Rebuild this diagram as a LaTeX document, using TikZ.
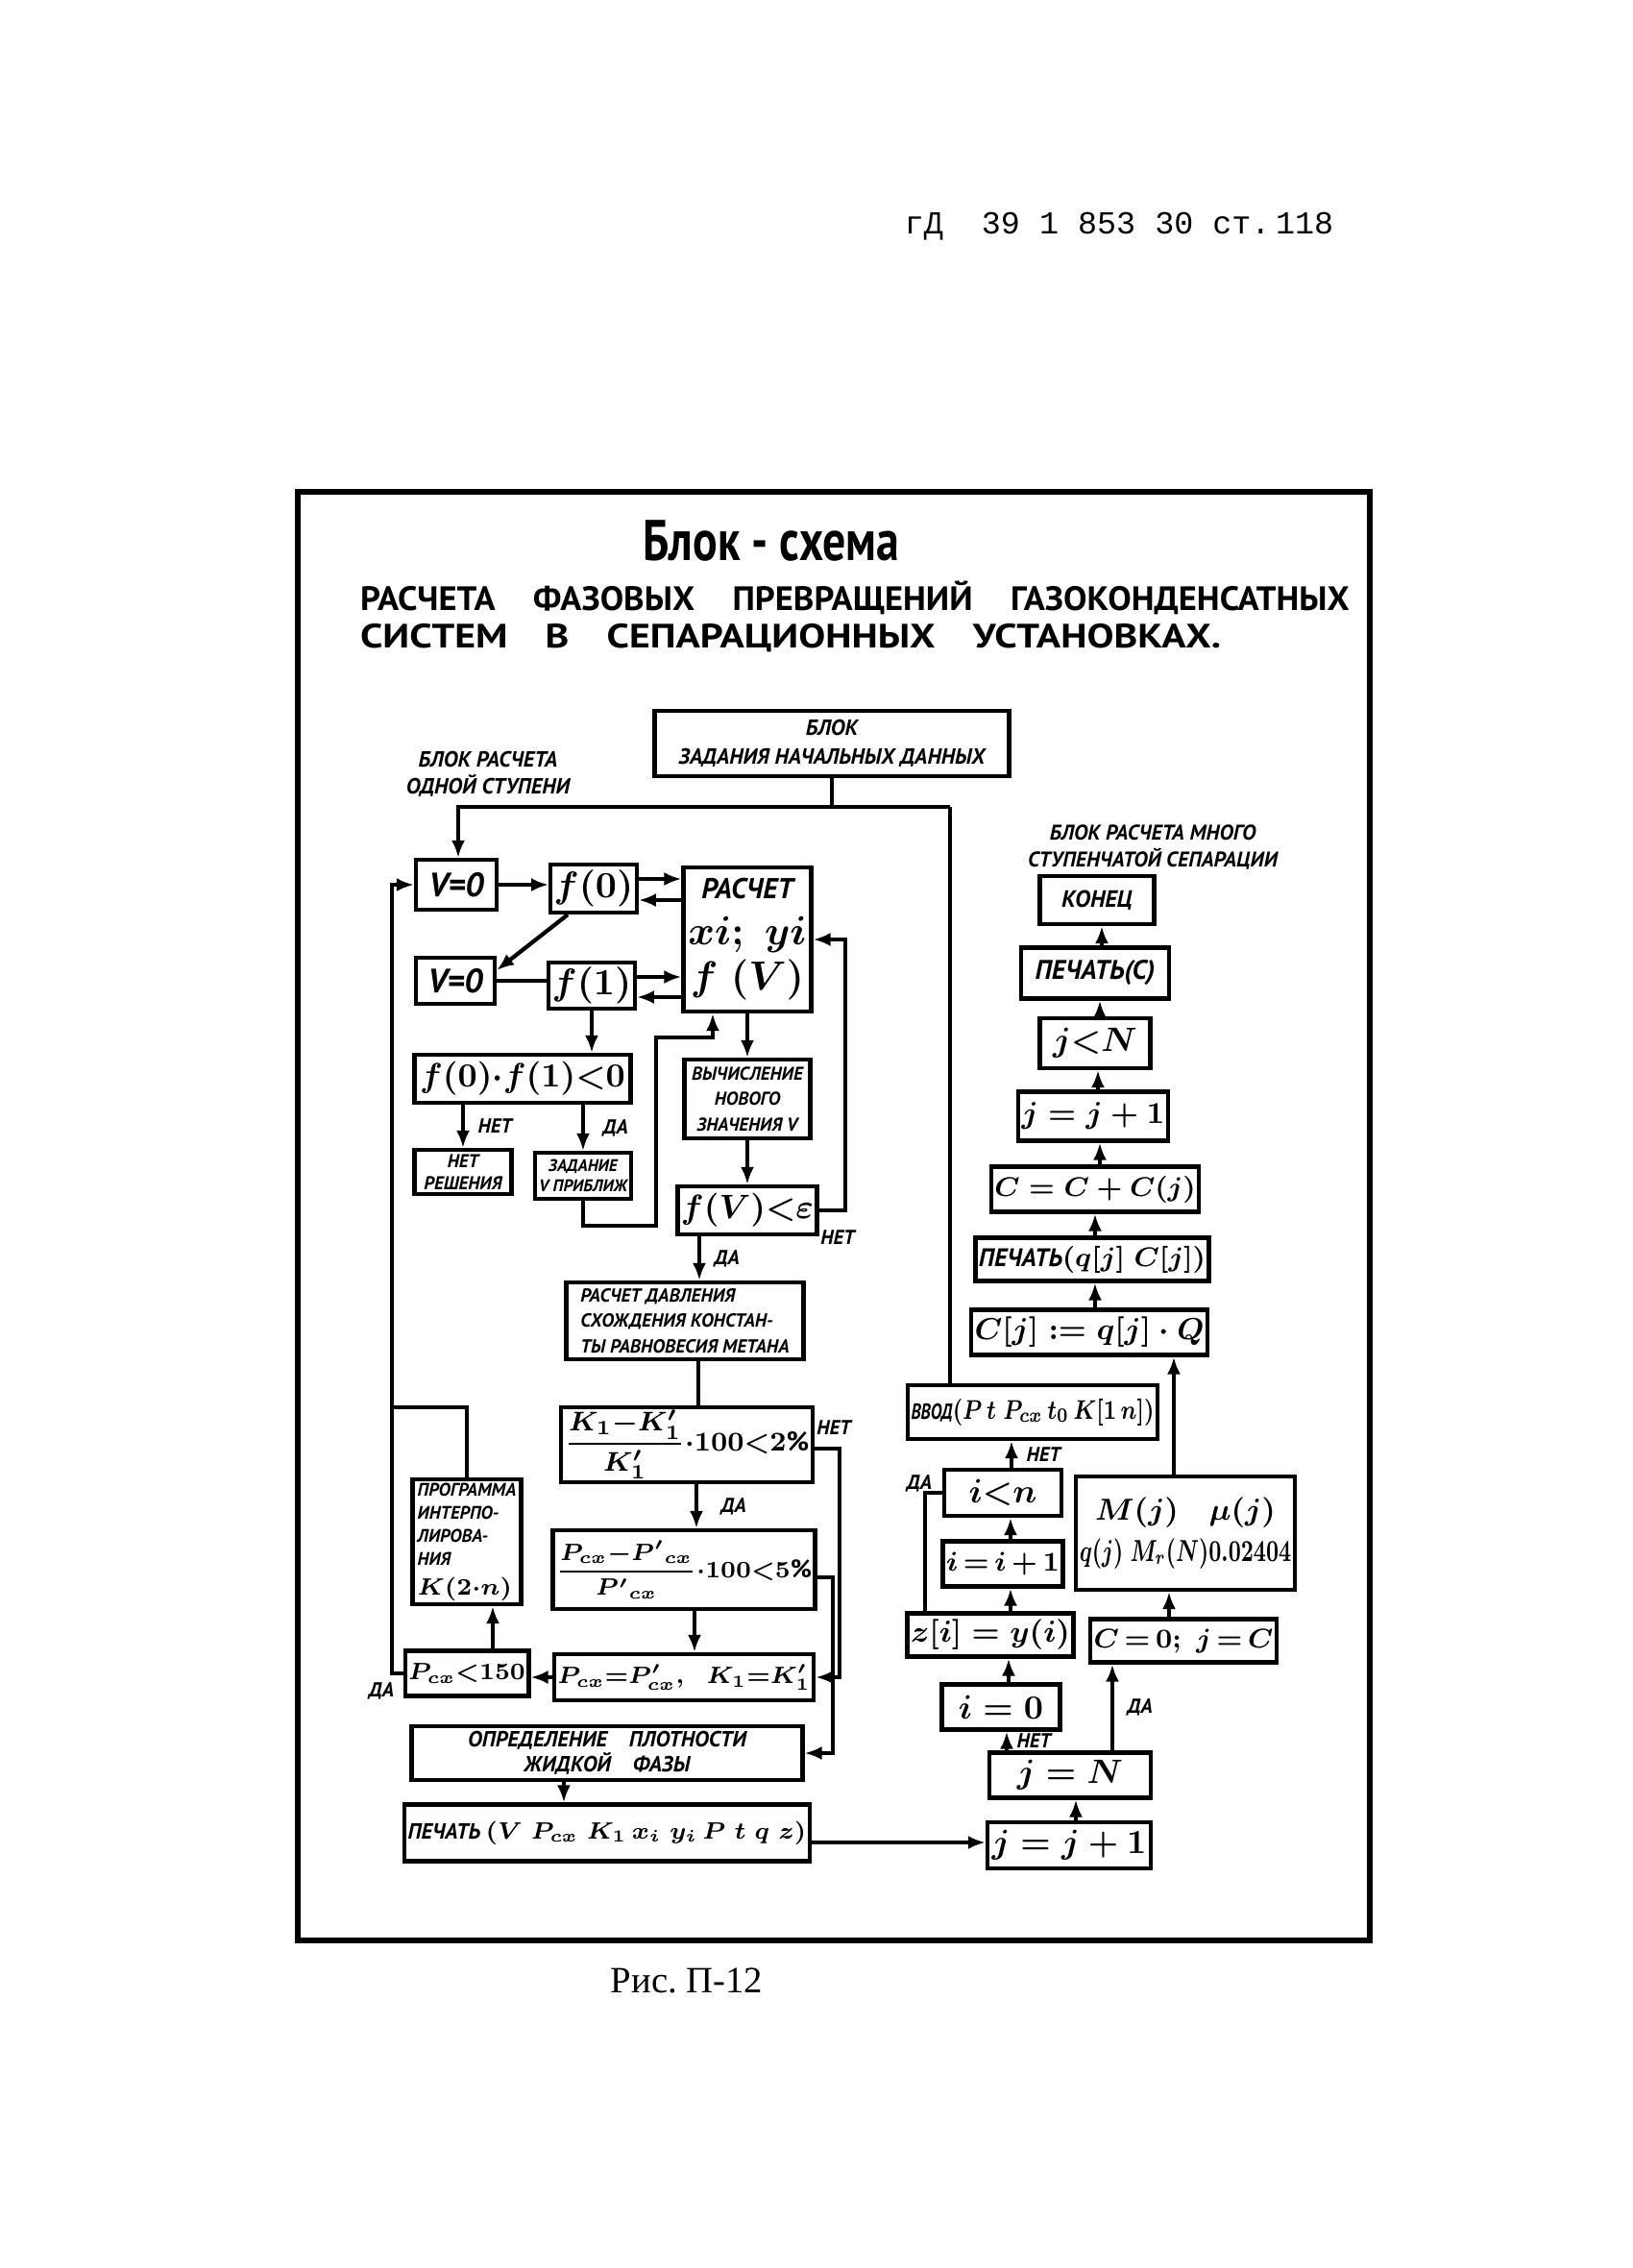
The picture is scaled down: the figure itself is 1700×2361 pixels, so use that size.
\documentclass[tikz,border=0pt]{standalone}
\usepackage{amsmath}
\usepackage{graphicx}
\usepackage{fontspec}
\setmainfont{PT Sans}
\newfontfamily\typefont{Liberation Mono}
\newfontfamily\captionfont{Liberation Serif}
\usetikzlibrary{positioning,arrows.meta,calc}

\newcommand{\nar}[2][0.85]{\scalebox{#1}[1]{#2}}

\begin{document}
\begin{tikzpicture}[x=0.1mm, y=-0.1mm, line width=1.2pt, >={Latex[length=1.8mm,width=1.4mm]},
    bloc/.style={draw, line width=1.2pt, inner sep=1pt, align=center},
    boxsize/.style 2 args={minimum width=#1mm, minimum height=#2mm},
    hand/.style 2 args={font=\bfseries\itshape\boldmath\fontsize{#1}{#2}\selectfont},
    ouinon/.style={hand={6}{7}, inner sep=1pt}]

    \useasboundingbox (0,0) rectangle (1700,2361);

    % =========================================================================
    % EN-TETE, CADRE, TITRE
    % =========================================================================
    \node[font=\typefont\fontsize{9.5}{11}\selectfont] (header) at (1165,236) {гД\ \ 39 1 853 30 ст.\,118};

    \draw[line width=1.5pt] (310,512) rectangle (1426,2020);

    \node[font=\bfseries\fontsize{17}{19}\selectfont] (title) at (803,563) {\nar[0.8]{Блок - схема}};
    \node[anchor=west, inner sep=0pt, font=\bfseries\fontsize{10}{11}\selectfont] (titleA) at (373,622)
        {\nar[1.04]{\makebox[99mm][s]{РАСЧЕТА ФАЗОВЫХ ПРЕВРАЩЕНИЙ ГАЗОКОНДЕНСАТНЫХ}}};
    \node[anchor=west, inner sep=0pt, font=\bfseries\fontsize{10}{11}\selectfont] (titleB) at (373,664)
        {\nar[1.19]{\makebox[75.3mm][s]{СИСТЕМ В СЕПАРАЦИОННЫХ УСТАНОВКАХ.}}};

    \node[font=\captionfont\fontsize{11}{12}\selectfont] (caption) at (715,2062) {Рис.\ П-12};

    % =========================================================================
    % BLOC DE DEPART
    % =========================================================================
    \node[bloc, boxsize={36.9}{6.8}, hand={6.5}{8.5}] (startBlock) at (866,774) {БЛОК\\ЗАДАНИЯ НАЧАЛЬНЫХ ДАННЫХ};
    \node[hand={6.5}{8}, align=center] (oneStage) at (508,806) {БЛОК РАСЧЕТА\\ОДНОЙ СТУПЕНИ};

    % =========================================================================
    % UNE ETAPE (colonne gauche)
    % =========================================================================
    \node[bloc, boxsize={8.4}{5.2}, hand={10}{12}] (vZeroA) at (475,921) {V=0};
    \node[bloc, boxsize={8.0}{5.0}, hand={11}{13}] (fZero) at (618,925) {$f(0)$};
    \node[bloc, boxsize={13.3}{15.0}, hand={8.5}{13.5}] (calcXY) at (778,978)
        {РАСЧЕТ\\{\fontsize{12}{13.5}\selectfont$xi;\;yi$}\\{\fontsize{12}{13.5}\selectfont$f\;(V)$}};
    \node[bloc, boxsize={8.2}{4.8}, hand={10}{12}] (vZeroB) at (474,1021) {V=0};
    \node[bloc, boxsize={8.0}{4.8}, hand={11}{13}] (fOne) at (616,1026) {$f(1)$};
    \node[bloc, boxsize={22.5}{5.0}, hand={10}{12}] (prodTest) at (544,1123) {$f(0){\cdot}f(1){<}0$};
    \node[bloc, boxsize={10.1}{4.6}, hand={5.5}{6.5}] (noSol) at (482,1220) {НЕТ\\РЕШЕНИЯ};
    \node[bloc, boxsize={10.0}{4.8}, hand={5}{6}] (vGuess) at (607,1224) {ЗАДАНИЕ\\V ПРИБЛИЖ};
    \node[bloc, boxsize={13.1}{8.2}, hand={5.5}{7.5}] (newV) at (778,1144) {ВЫЧИСЛЕНИЕ\\НОВОГО\\ЗНАЧЕНИЯ V};
    \node[bloc, boxsize={13.5}{5.0}, hand={10}{12}] (fEps) at (778,1260) {$f(V){<}\varepsilon$};
    \node[bloc, boxsize={24.7}{8.0}, hand={5.6}{7.5}, align=left] (pConv) at (713,1375)
        {РАСЧЕТ ДАВЛЕНИЯ\\СХОЖДЕНИЯ КОНСТАН-\\ТЫ РАВНОВЕСИЯ МЕТАНА};
    \node[bloc, boxsize={25.0}{7.8}, hand={8}{10}] (kTest) at (715,1504) {$\dfrac{K_1{-}K_1'}{K_1'}{\cdot}100{<}2\%$};
    \node[bloc, boxsize={25.0}{8.2}, hand={7.5}{10}] (pTest) at (712,1634)
        {$\dfrac{P_{cx}{-}{P'}_{cx}}{{P'}_{cx}}{\cdot}100{<}5\%$};
    \node[bloc, boxsize={25.0}{4.8}, hand={7}{9}] (pSet) at (712,1746) {$P_{cx}{=}P'_{cx},\;\;K_1{=}K_1'$};
    \node[bloc, boxsize={11.4}{4.7}, hand={7.5}{9}] (pLimit) at (486,1742) {$P_{cx}{<}150$};
    \node[bloc, boxsize={11.3}{13.0}, hand={5.4}{6.8}, align=left] (interp) at (486,1605)
        {ПРОГРАММА\\ИНТЕРПО-\\ЛИРОВА-\\НИЯ\\[2pt]{\fontsize{7.5}{6.8}\selectfont$K(2{\cdot}n)$}};
    \node[bloc, boxsize={40.7}{5.6}, hand={6.5}{7.5}] (density) at (632,1825) {ОПРЕДЕЛЕНИЕ\quad ПЛОТНОСТИ\\ЖИДКОЙ\quad ФАЗЫ};
    \node[bloc, boxsize={40.7}{5.9}, hand={6.5}{9}] (printA) at (632,1908)
        {ПЕЧАТЬ {\fontsize{7}{9}\selectfont$(V\;P_{cx}\;K_1\,x_i\;y_i\,P\;t\;q\;z)$}};

    % =========================================================================
    % PLUSIEURS ETAPES (colonne droite)
    % =========================================================================
    \node[hand={6.3}{8}, align=center] (multiStage) at (1200,882) {БЛОК РАСЧЕТА МНОГО\\СТУПЕНЧАТОЙ СЕПАРАЦИИ};
    \node[bloc, boxsize={11.9}{5.0}, hand={7}{8}] (theEnd) at (1142,937) {КОНЕЦ};
    \node[bloc, boxsize={15.4}{5.3}, hand={8}{9}] (printC) at (1140,1013) {ПЕЧАТЬ(C)};
    \node[bloc, boxsize={11.5}{5.2}, hand={10}{12}] (jLess) at (1140,1086) {$j{<}N$};
    \node[bloc, boxsize={15.3}{5.1}, hand={9}{10}] (jIncA) at (1138,1162) {$j=j+1$};
    \node[bloc, boxsize={19.6}{4.7}, hand={8}{10}] (cSum) at (1140,1238) {$C=C+C(j)$};
    \node[bloc, boxsize={24.1}{4.5}, hand={7.5}{9}] (printQ) at (1137,1311)
        {ПЕЧАТЬ{\fontsize{8}{10}\selectfont$(q[j]\;C[j])$}};
    \node[bloc, boxsize={24.2}{4.7}, hand={9}{11}] (cQ) at (1134,1387) {$C[j]:=q[j]\cdot Q$};
    \node[bloc, boxsize={25.4}{5.6}, hand={6.5}{8}] (input) at (1075,1470)
        {\nar[0.78]{ВВОД{\fontsize{8.5}{10}\selectfont$(P\,t\;P_{cx}\,t_0\,K[1\,n])$}}};
    \node[bloc, boxsize={12.2}{4.8}, hand={10}{12}] (iLess) at (1044,1554) {$i{<}n$};
    \node[bloc, boxsize={19.8}{11.8}, hand={9}{12}] (molar) at (1234,1596)
        {$M(j)\quad\mu(j)$\\\nar[0.7]{$q(j)\;M_r(N)0.02404$}};
    \node[bloc, boxsize={12.2}{4.7}, hand={8}{10}] (iInc) at (1044,1628) {$i\,{=}\,i\,{+}\,1$};
    \node[bloc, boxsize={17.2}{4.5}, hand={9}{11}] (zSet) at (1031,1702) {$z[i]=y(i)$};
    \node[bloc, boxsize={17.7}{4.5}, hand={8}{10}] (cZero) at (1232,1708) {$C\,{=}\,0;\;j\,{=}\,C$};
    \node[bloc, boxsize={12.3}{4.7}, hand={10}{12}] (iZero) at (1042,1777) {$i=0$};
    \node[bloc, boxsize={16.8}{4.7}, hand={10}{12}] (jEqual) at (1114,1848) {$j=N$};
    \node[bloc, boxsize={17.0}{4.8}, hand={10}{12}] (jIncB) at (1113,1921) {$j=j+1$};

    % =========================================================================
    % LIAISONS
    % =========================================================================
    % Depart
    \coordinate (feedMid) at (866,840);
    \coordinate (feedLeft) at (477,840);
    \coordinate (feedRight) at (989,840);
    \draw (startBlock.south) -- (feedMid);
    \draw (input.north -| feedRight) -- (feedRight);
    \draw[->] (feedRight) -- (feedLeft) -- (feedLeft |- vZeroA.north);

    % Boucle gauche
    \coordinate (loopJoin) at (408,1465);
    \draw (interp.north) |- (loopJoin);
    \draw[->] (pLimit.west) -- (pLimit.west -| loopJoin) |- (vZeroA.west);
    \node[ouinon] (yesLimit) at (397,1760) {ДА};

    % f(0), f(1)
    \draw[->] (vZeroA.east) -- (vZeroA.east -| fZero.west);
    \draw[->] ([yshift=1mm]fZero.east) -- ([yshift=1mm]fZero.east -| calcXY.west);
    \draw[<-] ([yshift=-1.2mm]fZero.east) -- ([yshift=-1.2mm]fZero.east -| calcXY.west);
    \draw[->] ([xshift=2mm]fZero.south west) -- ([yshift=1.1mm]vZeroB.east);
    \draw (vZeroB.east) -- (vZeroB.east -| fOne.west);
    \draw[->] ([yshift=0.9mm]fOne.east) -- ([yshift=0.9mm]fOne.east -| calcXY.west);
    \draw[<-] ([yshift=-1.2mm]fOne.east) -- ([yshift=-1.2mm]fOne.east -| calcXY.west);
    \draw[->] (fOne.south) -- (fOne.south |- prodTest.north);

    % Test f(0).f(1)
    \draw[->] (noSol.north |- prodTest.south) -- node[ouinon, right, xshift=1mm] (noProd) {НЕТ} (noSol.north);
    \draw[->] (vGuess.north |- prodTest.south) -- node[ouinon, right, xshift=1.5mm] (yesProd) {ДА} (vGuess.north);
    \draw[->] (vGuess.south) -- ++(0,26) -| (683,1080) -| ([xshift=-3.6mm]calcXY.south);

    % Iterations sur V
    \draw[->] (calcXY.south) -- (newV.north);
    \draw[->] (newV.south) -- (fEps.north);
    \draw[->] (fEps.east) -- ++(27,0) |- (calcXY.east);
    \node[ouinon] (noEps) at (872,1288) {НЕТ};
    \draw[->] ([xshift=-5mm]fEps.south) -- node[ouinon, right, xshift=1mm] (yesEps) {ДА} ([xshift=-5mm]fEps.south |- pConv.north);
    \draw ([xshift=1.4mm]pConv.south) -- ([xshift=1.4mm]pConv.south |- kTest.north);

    % Convergence K et P
    \draw[->] ([yshift=-0.4mm]kTest.east) -- ++(26,0) |- (pSet.east);
    \node[ouinon] (noK) at (868,1486) {НЕТ};
    \draw[->] ([xshift=1mm]kTest.south) -- node[ouinon, right, xshift=2mm] (yesK) {ДА} ([xshift=1mm]kTest.south |- pTest.north);
    \draw[->] ([yshift=-0.8mm]pTest.east) -- ++(16,0) |- (density.east);
    \draw[->] ([xshift=1.1mm]pTest.south) -- ([xshift=1.1mm]pTest.south |- pSet.north);
    \draw[->] (pSet.west) -- (pSet.west -| pLimit.east);
    \draw[->] ([xshift=2.7mm]pLimit.north) -- ([xshift=2.7mm]pLimit.north |- interp.south);
    \draw[->] ([xshift=-4.5mm]density.south) -- ([xshift=-4.5mm]density.south |- printA.north);
    \draw[->] ([yshift=-1mm]printA.east) -- ([yshift=-1mm]printA.east -| jIncB.west);

    % Colonne droite
    \draw[->] ([xshift=0.7mm]jIncB.north) -- ([xshift=0.7mm]jIncB.north |- jEqual.south);
    \draw[->] ([xshift=-6.6mm]jEqual.north) -- node[ouinon, right, xshift=0.5mm] (noEqual) {НЕТ} ([xshift=-6.6mm]jEqual.north |- iZero.south);
    \draw[->] ([xshift=4.4mm]jEqual.north) -- node[ouinon, right, xshift=1mm] (yesEqual) {ДА} ([xshift=4.4mm]jEqual.north |- cZero.south);
    \draw[->] ([xshift=0.8mm]iZero.north) -- ([xshift=0.8mm]iZero.north |- zSet.south);
    \draw[->] ([xshift=2.1mm]zSet.north) -- ([xshift=2.1mm]zSet.north |- iInc.south);
    \draw[->] ([xshift=0.8mm]iInc.north) -- ([xshift=0.8mm]iInc.north |- iLess.south);
    \draw (iLess.west) -| ([xshift=-6.8mm]zSet.north);
    \node[ouinon] (yesLess) at (957,1544) {ДА};
    \draw[->] ([xshift=0.9mm]iLess.north) -- node[ouinon, right, xshift=1mm] (noLess) {НЕТ} ([xshift=0.9mm]iLess.north |- input.south);
    \draw[->] ([xshift=-1.5mm]cZero.north) -- ([xshift=-1.5mm]cZero.north |- molar.south);
    \draw[->] ([xshift=-1.2mm]molar.north) -- ([xshift=-1.2mm]molar.north |- cQ.south);
    \draw[->] ([xshift=0.6mm]cQ.north) -- ([xshift=0.6mm]cQ.north |- printQ.south);
    \draw[->] ([xshift=0.3mm]printQ.north) -- ([xshift=0.3mm]printQ.north |- cSum.south);
    \draw[->] ([xshift=0.5mm]cSum.north) -- ([xshift=0.5mm]cSum.north |- jIncA.south);
    \draw[->] ([xshift=0.5mm]jIncA.north) -- ([xshift=0.5mm]jIncA.north |- jLess.south);
    \draw[->] ([xshift=0.5mm]jLess.north) -- ([xshift=0.5mm]jLess.north |- printC.south);
    \draw[->] ([xshift=0.7mm]printC.north) -- ([xshift=0.7mm]printC.north |- theEnd.south);
\end{tikzpicture}
\end{document}
